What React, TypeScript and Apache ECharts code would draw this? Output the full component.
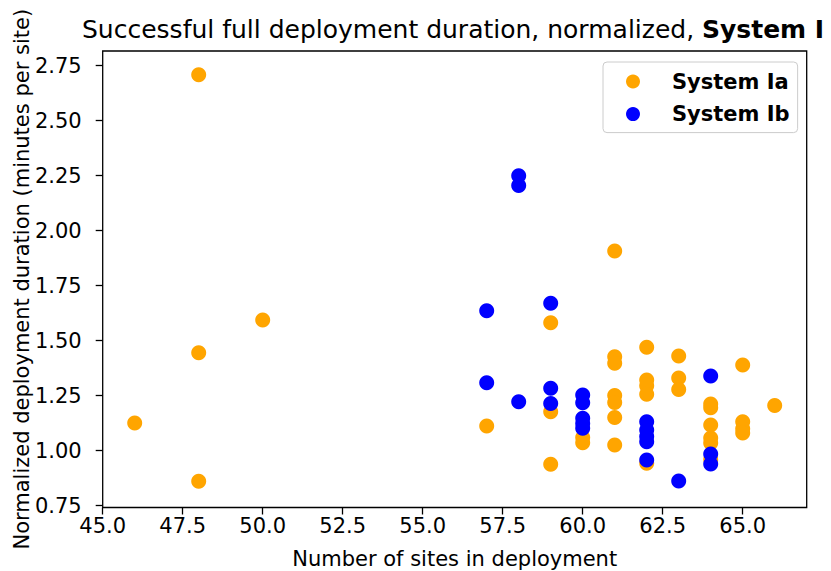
import React, { useEffect, useRef } from "react";
import * as echarts from "echarts";

const titleNormal = "Successful full deployment duration, normalized, ";
const titleBold = "System I";
const xAxisName = "Number of sites in deployment";
const yAxisName = "Normalized deployment duration (minutes per site)";
const seriesNames = ["System Ia", "System Ib"];
const seriesColors = ["#FFA500", "#0000FF"];

const xTicks = [45, 47.5, 50, 52.5, 55, 57.5, 60, 62.5, 65];
const yTicks = [0.75, 1.0, 1.25, 1.5, 1.75, 2.0, 2.25, 2.5, 2.75];

// System Ia (orange)
const iaSites = [
  46, 48, 48, 48, 50, 57, 59, 59, 59, 60, 60,
  61, 61, 61, 61, 61, 61, 61,
  62, 62, 62, 62, 62,
  63, 63, 63,
  64, 64, 64, 64, 64, 64,
  65, 65, 65, 65,
  66,
];
const iaDuration = [
  1.126, 2.709, 1.445, 0.861, 1.594, 1.112, 1.582, 1.177, 0.938, 1.06, 1.036,
  1.908, 1.427, 1.397, 1.251, 1.219, 1.151, 1.026,
  1.47, 1.321, 1.295, 1.257, 0.943,
  1.43, 1.33, 1.278,
  1.212, 1.195, 1.117, 1.058, 1.035, 0.96,
  1.39, 1.132, 1.1, 1.08,
  1.205,
];

// System Ib (blue)
const ibSites = [
  57, 57, 58, 58, 58, 59, 59, 59,
  60, 60, 60, 60, 60,
  62, 62, 62, 62, 62,
  63, 64, 64, 64,
];
const ibDuration = [
  1.636, 1.309, 2.25, 2.205, 1.223, 1.67, 1.284, 1.215,
  1.253, 1.218, 1.147, 1.124, 1.102,
  1.132, 1.094, 1.064, 1.041, 0.958,
  0.862, 1.34, 0.985, 0.94,
];

const FONT = "DejaVu Sans";

function pairs(xs: number[], ys: number[]) {
  return xs.map((x, i) => [x, ys[i]]);
}

export default function App() {
  const ref = useRef<HTMLDivElement>(null);
  useEffect(() => {
    if (!ref.current) return;
    const chart = echarts.init(ref.current, null, { renderer: "svg" });
    chart.setOption({
      animation: false,
      backgroundColor: "#ffffff",
      textStyle: { fontFamily: FONT },
      title: {
        text: "{n|" + titleNormal + "}{b|" + titleBold + "}",
        left: 82,
        top: 17,
        padding: 0,
        textStyle: {
          fontWeight: "normal",
          fontFamily: FONT,
          fontSize: 25,
          color: "#000",
          rich: {
            n: { fontFamily: FONT, fontSize: 25, fontWeight: "normal", color: "#000" },
            b: { fontFamily: FONT, fontSize: 25, fontWeight: "bold", color: "#000" },
          },
        },
      },
      legend: {
        orient: "vertical",
        left: 603,
        top: 62,
        padding: [9, 8, 8, 23],
        itemGap: 11.6,
        itemWidth: 14,
        itemHeight: 14,
        icon: "circle",
        backgroundColor: "rgba(255,255,255,0.8)",
        borderColor: "#cccccc",
        borderWidth: 1,
        borderRadius: 4,
        textStyle: {
          fontFamily: FONT,
          fontSize: 21,
          fontWeight: "bold",
          color: "#000",
          padding: [0, 0, 0, 27],
        },
        data: seriesNames,
      },
      grid: {
        left: 102.7,
        right: 24.3,
        top: 51,
        bottom: 63.5,
        show: true,
        borderColor: "#000",
        borderWidth: 1.3,
        backgroundColor: "#fff",
        containLabel: false,
        outerBoundsMode: "none",
      },
      xAxis: {
        type: "value",
        min: 45,
        max: 67,
        name: xAxisName,
        nameLocation: "middle",
        nameGap: 41,
        nameMoveOverlap: false,
        nameTextStyle: { fontFamily: FONT, fontSize: 21, color: "#000" },
        axisLine: { show: false },
        splitLine: { show: false },
        axisTick: {
          show: true,
          length: 7,
          lineStyle: { color: "#000", width: 1.3 },
          customValues: xTicks,
        },
        axisLabel: {
          margin: 8,
          fontFamily: FONT,
          fontSize: 21,
          color: "#000",
          customValues: xTicks,
          formatter: (v: number) => v.toFixed(1),
        },
      },
      yAxis: {
        type: "value",
        min: 0.7418,
        max: 2.8168,
        name: yAxisName,
        nameLocation: "middle",
        nameGap: 70,
        nameMoveOverlap: false,
        nameTextStyle: { fontFamily: FONT, fontSize: 21, color: "#000" },
        axisLine: { show: false },
        splitLine: { show: false },
        axisTick: {
          show: true,
          length: 7,
          lineStyle: { color: "#000", width: 1.3 },
          customValues: yTicks,
        },
        axisLabel: {
          margin: 21,
          fontFamily: FONT,
          fontSize: 21,
          color: "#000",
          customValues: yTicks,
          formatter: (v: number) => v.toFixed(2),
        },
      },
      series: [
        {
          name: seriesNames[0],
          type: "scatter",
          symbol: "circle",
          symbolSize: 15,
          itemStyle: { color: seriesColors[0], opacity: 1 },
          data: pairs(iaSites, iaDuration),
        },
        {
          name: seriesNames[1],
          type: "scatter",
          symbol: "circle",
          symbolSize: 15,
          itemStyle: { color: seriesColors[1], opacity: 1 },
          data: pairs(ibSites, ibDuration),
        },
      ],
    });
    return () => chart.dispose();
  }, []);
  return (
    <div
      ref={ref}
      style={{ position: "fixed", left: 0, top: 0, width: 831, height: 571 }}
    />
  );
}
